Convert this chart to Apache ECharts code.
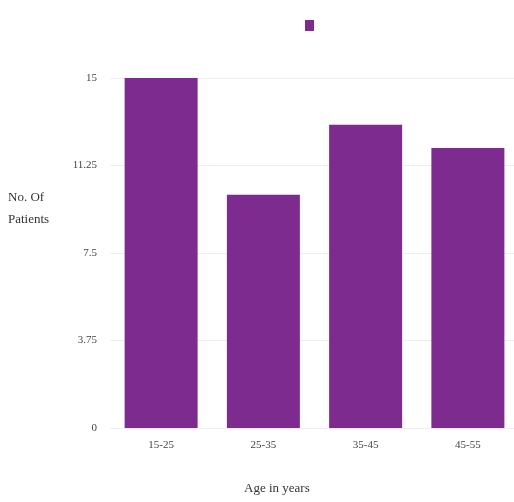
<!DOCTYPE html>
<html><head><meta charset="utf-8">
<script src="https://cdn.jsdelivr.net/npm/echarts@6/dist/echarts.min.js"></script>
<style>html,body{margin:0;padding:0;background:#fff;overflow:hidden}#c{width:522px;height:502px}</style>
</head><body><div id="c"></div>
<script>
var categories = ['15-25', '25-35', '35-45', '45-55'];
var patients = [15, 10, 13, 12];
var yTicks = [0, 3.75, 7.5, 11.25, 15];
var yAxisTitle = 'No. Of\nPatients';
var xAxisTitle = 'Age in years';

var chart = echarts.init(document.getElementById('c'));
var font = 'Liberation Serif';
chart.setOption({
  animation: false,
  legend: {
    top: 15, left: 300,
    itemWidth: 9, itemHeight: 11,
    data: [{name: ' ', icon: 'rect'}],
    textStyle: {fontSize: 1},
    itemGap: 0
  },
  graphic: [{
    type: 'text', left: 8, top: 187,
    style: {text: yAxisTitle, fontFamily: font, fontSize: 13, fill: '#333', lineHeight: 22, align: 'left'}
  }, {
    type: 'text', left: 244, top: 482,
    style: {text: xAxisTitle, fontFamily: font, fontSize: 13, fill: '#333'}
  }],
  grid: {left: 110, top: 78, width: 409, height: 350, containLabel: false},
  xAxis: {
    type: 'category',
    data: categories,
    axisLine: {show: false},
    axisTick: {show: false},
    axisLabel: {fontFamily: font, fontSize: 11, color: '#444', margin: 12}
  },
  yAxis: {
    type: 'value',
    min: 0, max: 15, interval: 3.75,
    axisLine: {show: false},
    axisTick: {show: false},
    axisLabel: {fontFamily: font, fontSize: 11, color: '#444', margin: 13,
      formatter: function (v) { return yTicks.indexOf(v) >= 0 ? String(v) : ''; }},
    splitLine: {lineStyle: {color: '#eeeeee', width: 1}}
  },
  series: [{
    name: ' ',
    type: 'bar',
    data: patients,
    barWidth: 73,
    itemStyle: {color: '#7d2b8e'}
  }]
});
</script></body></html>
